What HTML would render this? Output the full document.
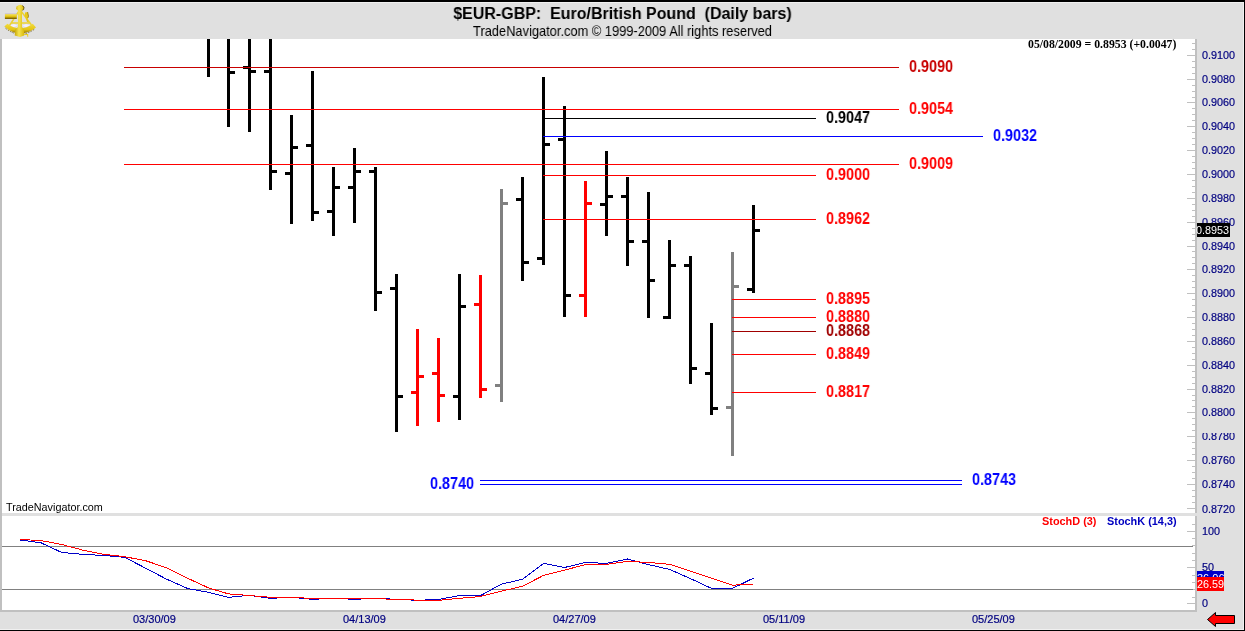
<!DOCTYPE html><html><head><meta charset="utf-8"><title>$EUR-GBP</title><style>
html,body{margin:0;padding:0}
body{width:1245px;height:631px;overflow:hidden;background:#e0e0e0;position:relative;font-family:"Liberation Sans",sans-serif}
.t{position:absolute;white-space:nowrap;line-height:1;will-change:transform}
.ax{font-size:10.8px;color:#000080;left:1202px;-webkit-text-stroke:0.2px #000080}
.lv{font-size:16px;font-weight:bold;transform:scaleX(0.9);transform-origin:0 0}
.dt{font-size:11px;color:#000080;top:614px;-webkit-text-stroke:0.2px #000080}
</style></head><body>
<svg width="1245" height="631" viewBox="0 0 1245 631" style="position:absolute;left:0;top:0" shape-rendering="crispEdges">
<rect x="2" y="39" width="1193" height="474" fill="#fff"/>
<rect x="2" y="516" width="1193" height="94" fill="#fff"/>
<rect x="0" y="39" width="2" height="573" fill="#c0c0c0"/>
<rect x="0" y="610" width="1197" height="2" fill="#c0c0c0"/>
<rect x="1195" y="39" width="2" height="474" fill="#c0c0c0"/>
<rect x="1195" y="516" width="2" height="96" fill="#c0c0c0"/>
<rect x="0" y="2" width="1244" height="1" fill="#f0f0f0"/>
<rect x="1243" y="2" width="1" height="628" fill="#f0f0f0"/>
<rect x="0" y="629" width="1244" height="1" fill="#f0f0f0"/>
<rect x="0" y="0" width="1245" height="2" fill="#000"/>
<rect x="1244" y="0" width="1" height="631" fill="#000"/>
<rect x="0" y="630" width="1245" height="1" fill="#000"/>
<rect x="1192" y="43" width="3" height="1" fill="#c0c0c0"/>
<rect x="1192" y="49" width="3" height="1" fill="#c0c0c0"/>
<rect x="1187" y="55" width="8" height="1" fill="#c0c0c0"/>
<rect x="1192" y="61" width="3" height="1" fill="#c0c0c0"/>
<rect x="1192" y="67" width="3" height="1" fill="#c0c0c0"/>
<rect x="1192" y="73" width="3" height="1" fill="#c0c0c0"/>
<rect x="1187" y="79" width="8" height="1" fill="#c0c0c0"/>
<rect x="1192" y="85" width="3" height="1" fill="#c0c0c0"/>
<rect x="1192" y="91" width="3" height="1" fill="#c0c0c0"/>
<rect x="1192" y="97" width="3" height="1" fill="#c0c0c0"/>
<rect x="1187" y="102" width="8" height="1" fill="#c0c0c0"/>
<rect x="1192" y="108" width="3" height="1" fill="#c0c0c0"/>
<rect x="1192" y="114" width="3" height="1" fill="#c0c0c0"/>
<rect x="1192" y="120" width="3" height="1" fill="#c0c0c0"/>
<rect x="1187" y="126" width="8" height="1" fill="#c0c0c0"/>
<rect x="1192" y="132" width="3" height="1" fill="#c0c0c0"/>
<rect x="1192" y="138" width="3" height="1" fill="#c0c0c0"/>
<rect x="1192" y="144" width="3" height="1" fill="#c0c0c0"/>
<rect x="1187" y="150" width="8" height="1" fill="#c0c0c0"/>
<rect x="1192" y="156" width="3" height="1" fill="#c0c0c0"/>
<rect x="1192" y="162" width="3" height="1" fill="#c0c0c0"/>
<rect x="1192" y="168" width="3" height="1" fill="#c0c0c0"/>
<rect x="1187" y="174" width="8" height="1" fill="#c0c0c0"/>
<rect x="1192" y="180" width="3" height="1" fill="#c0c0c0"/>
<rect x="1192" y="186" width="3" height="1" fill="#c0c0c0"/>
<rect x="1192" y="192" width="3" height="1" fill="#c0c0c0"/>
<rect x="1187" y="198" width="8" height="1" fill="#c0c0c0"/>
<rect x="1192" y="204" width="3" height="1" fill="#c0c0c0"/>
<rect x="1192" y="210" width="3" height="1" fill="#c0c0c0"/>
<rect x="1192" y="216" width="3" height="1" fill="#c0c0c0"/>
<rect x="1187" y="222" width="8" height="1" fill="#c0c0c0"/>
<rect x="1192" y="228" width="3" height="1" fill="#c0c0c0"/>
<rect x="1192" y="234" width="3" height="1" fill="#c0c0c0"/>
<rect x="1192" y="240" width="3" height="1" fill="#c0c0c0"/>
<rect x="1187" y="246" width="8" height="1" fill="#c0c0c0"/>
<rect x="1192" y="251" width="3" height="1" fill="#c0c0c0"/>
<rect x="1192" y="257" width="3" height="1" fill="#c0c0c0"/>
<rect x="1192" y="263" width="3" height="1" fill="#c0c0c0"/>
<rect x="1187" y="269" width="8" height="1" fill="#c0c0c0"/>
<rect x="1192" y="275" width="3" height="1" fill="#c0c0c0"/>
<rect x="1192" y="281" width="3" height="1" fill="#c0c0c0"/>
<rect x="1192" y="287" width="3" height="1" fill="#c0c0c0"/>
<rect x="1187" y="293" width="8" height="1" fill="#c0c0c0"/>
<rect x="1192" y="299" width="3" height="1" fill="#c0c0c0"/>
<rect x="1192" y="305" width="3" height="1" fill="#c0c0c0"/>
<rect x="1192" y="311" width="3" height="1" fill="#c0c0c0"/>
<rect x="1187" y="317" width="8" height="1" fill="#c0c0c0"/>
<rect x="1192" y="323" width="3" height="1" fill="#c0c0c0"/>
<rect x="1192" y="329" width="3" height="1" fill="#c0c0c0"/>
<rect x="1192" y="335" width="3" height="1" fill="#c0c0c0"/>
<rect x="1187" y="341" width="8" height="1" fill="#c0c0c0"/>
<rect x="1192" y="347" width="3" height="1" fill="#c0c0c0"/>
<rect x="1192" y="353" width="3" height="1" fill="#c0c0c0"/>
<rect x="1192" y="359" width="3" height="1" fill="#c0c0c0"/>
<rect x="1187" y="365" width="8" height="1" fill="#c0c0c0"/>
<rect x="1192" y="371" width="3" height="1" fill="#c0c0c0"/>
<rect x="1192" y="377" width="3" height="1" fill="#c0c0c0"/>
<rect x="1192" y="383" width="3" height="1" fill="#c0c0c0"/>
<rect x="1187" y="389" width="8" height="1" fill="#c0c0c0"/>
<rect x="1192" y="395" width="3" height="1" fill="#c0c0c0"/>
<rect x="1192" y="400" width="3" height="1" fill="#c0c0c0"/>
<rect x="1192" y="406" width="3" height="1" fill="#c0c0c0"/>
<rect x="1187" y="412" width="8" height="1" fill="#c0c0c0"/>
<rect x="1192" y="418" width="3" height="1" fill="#c0c0c0"/>
<rect x="1192" y="424" width="3" height="1" fill="#c0c0c0"/>
<rect x="1192" y="430" width="3" height="1" fill="#c0c0c0"/>
<rect x="1187" y="436" width="8" height="1" fill="#c0c0c0"/>
<rect x="1192" y="442" width="3" height="1" fill="#c0c0c0"/>
<rect x="1192" y="448" width="3" height="1" fill="#c0c0c0"/>
<rect x="1192" y="454" width="3" height="1" fill="#c0c0c0"/>
<rect x="1187" y="460" width="8" height="1" fill="#c0c0c0"/>
<rect x="1192" y="466" width="3" height="1" fill="#c0c0c0"/>
<rect x="1192" y="472" width="3" height="1" fill="#c0c0c0"/>
<rect x="1192" y="478" width="3" height="1" fill="#c0c0c0"/>
<rect x="1187" y="484" width="8" height="1" fill="#c0c0c0"/>
<rect x="1192" y="490" width="3" height="1" fill="#c0c0c0"/>
<rect x="1192" y="496" width="3" height="1" fill="#c0c0c0"/>
<rect x="1192" y="502" width="3" height="1" fill="#c0c0c0"/>
<rect x="1187" y="508" width="8" height="1" fill="#c0c0c0"/>
<rect x="1192" y="524" width="3" height="1" fill="#c0c0c0"/>
<rect x="1187" y="531" width="8" height="1" fill="#c0c0c0"/>
<rect x="1192" y="538" width="3" height="1" fill="#c0c0c0"/>
<rect x="1192" y="545" width="3" height="1" fill="#c0c0c0"/>
<rect x="1192" y="553" width="3" height="1" fill="#c0c0c0"/>
<rect x="1192" y="560" width="3" height="1" fill="#c0c0c0"/>
<rect x="1187" y="567" width="8" height="1" fill="#c0c0c0"/>
<rect x="1192" y="575" width="3" height="1" fill="#c0c0c0"/>
<rect x="1192" y="582" width="3" height="1" fill="#c0c0c0"/>
<rect x="1192" y="589" width="3" height="1" fill="#c0c0c0"/>
<rect x="1192" y="597" width="3" height="1" fill="#c0c0c0"/>
<rect x="1187" y="603" width="8" height="1" fill="#c0c0c0"/>
<rect x="2" y="546" width="1191" height="1" fill="#808080"/>
<rect x="2" y="589" width="1191" height="1" fill="#808080"/>
<rect x="207" y="39" width="3" height="38" fill="#000"/>
<rect x="227" y="39" width="3" height="88" fill="#000"/>
<rect x="230" y="71" width="5" height="3" fill="#000"/>
<rect x="248" y="39" width="3" height="93" fill="#000"/>
<rect x="243" y="66" width="5" height="3" fill="#000"/>
<rect x="251" y="70" width="5" height="3" fill="#000"/>
<rect x="269" y="39" width="3" height="151" fill="#000"/>
<rect x="264" y="70" width="5" height="3" fill="#000"/>
<rect x="272" y="170" width="5" height="3" fill="#000"/>
<rect x="290" y="115" width="3" height="109" fill="#000"/>
<rect x="285" y="172" width="5" height="3" fill="#000"/>
<rect x="293" y="146" width="5" height="3" fill="#000"/>
<rect x="311" y="71" width="3" height="150" fill="#000"/>
<rect x="306" y="144" width="5" height="3" fill="#000"/>
<rect x="314" y="211" width="5" height="3" fill="#000"/>
<rect x="332" y="167" width="3" height="69" fill="#000"/>
<rect x="327" y="210" width="5" height="3" fill="#000"/>
<rect x="335" y="186" width="5" height="3" fill="#000"/>
<rect x="353" y="148" width="3" height="75" fill="#000"/>
<rect x="348" y="186" width="5" height="3" fill="#000"/>
<rect x="356" y="170" width="5" height="3" fill="#000"/>
<rect x="374" y="167" width="3" height="144" fill="#000"/>
<rect x="369" y="170" width="5" height="3" fill="#000"/>
<rect x="377" y="291" width="5" height="3" fill="#000"/>
<rect x="395" y="274" width="3" height="158" fill="#000"/>
<rect x="390" y="287" width="5" height="3" fill="#000"/>
<rect x="398" y="395" width="5" height="3" fill="#000"/>
<rect x="416" y="329" width="3" height="97" fill="#f00"/>
<rect x="411" y="391" width="5" height="3" fill="#f00"/>
<rect x="419" y="375" width="5" height="3" fill="#f00"/>
<rect x="437" y="338" width="3" height="84" fill="#f00"/>
<rect x="432" y="372" width="5" height="3" fill="#f00"/>
<rect x="440" y="394" width="5" height="3" fill="#f00"/>
<rect x="458" y="274" width="3" height="146" fill="#000"/>
<rect x="453" y="395" width="5" height="3" fill="#000"/>
<rect x="461" y="305" width="5" height="3" fill="#000"/>
<rect x="479" y="275" width="3" height="123" fill="#f00"/>
<rect x="474" y="303" width="5" height="3" fill="#f00"/>
<rect x="482" y="388" width="5" height="3" fill="#f00"/>
<rect x="500" y="189" width="3" height="213" fill="#808080"/>
<rect x="495" y="384" width="5" height="3" fill="#808080"/>
<rect x="503" y="202" width="5" height="3" fill="#808080"/>
<rect x="521" y="177" width="3" height="104" fill="#000"/>
<rect x="516" y="198" width="5" height="3" fill="#000"/>
<rect x="524" y="261" width="5" height="3" fill="#000"/>
<rect x="542" y="77" width="3" height="188" fill="#000"/>
<rect x="537" y="257" width="5" height="3" fill="#000"/>
<rect x="545" y="143" width="5" height="3" fill="#000"/>
<rect x="563" y="106" width="3" height="211" fill="#000"/>
<rect x="558" y="138" width="5" height="3" fill="#000"/>
<rect x="566" y="294" width="5" height="3" fill="#000"/>
<rect x="584" y="181" width="3" height="136" fill="#f00"/>
<rect x="579" y="294" width="5" height="3" fill="#f00"/>
<rect x="587" y="202" width="5" height="3" fill="#f00"/>
<rect x="605" y="151" width="3" height="85" fill="#000"/>
<rect x="600" y="203" width="5" height="3" fill="#000"/>
<rect x="608" y="195" width="5" height="3" fill="#000"/>
<rect x="626" y="177" width="3" height="89" fill="#000"/>
<rect x="621" y="195" width="5" height="3" fill="#000"/>
<rect x="629" y="240" width="5" height="3" fill="#000"/>
<rect x="647" y="192" width="3" height="126" fill="#000"/>
<rect x="642" y="240" width="5" height="3" fill="#000"/>
<rect x="650" y="279" width="5" height="3" fill="#000"/>
<rect x="668" y="240" width="3" height="79" fill="#000"/>
<rect x="663" y="316" width="5" height="3" fill="#000"/>
<rect x="671" y="264" width="5" height="3" fill="#000"/>
<rect x="689" y="256" width="3" height="128" fill="#000"/>
<rect x="684" y="264" width="5" height="3" fill="#000"/>
<rect x="692" y="367" width="5" height="3" fill="#000"/>
<rect x="710" y="323" width="3" height="92" fill="#000"/>
<rect x="705" y="372" width="5" height="3" fill="#000"/>
<rect x="713" y="407" width="5" height="3" fill="#000"/>
<rect x="731" y="252" width="3" height="204" fill="#808080"/>
<rect x="726" y="406" width="5" height="3" fill="#808080"/>
<rect x="734" y="285" width="5" height="3" fill="#808080"/>
<rect x="752" y="205" width="3" height="88" fill="#000"/>
<rect x="747" y="288" width="5" height="3" fill="#000"/>
<rect x="755" y="229" width="5" height="3" fill="#000"/>
<rect x="124" y="67" width="775" height="1" fill="#c80000"/>
<rect x="124" y="109" width="775" height="1" fill="#f00"/>
<rect x="124" y="164" width="775" height="1" fill="#f00"/>
<rect x="544" y="118" width="272" height="1" fill="#000"/>
<rect x="543" y="136" width="440" height="1" fill="#00f"/>
<rect x="543" y="175" width="273" height="1" fill="#f00"/>
<rect x="543" y="219" width="273" height="1" fill="#f00"/>
<rect x="732" y="299" width="84" height="1" fill="#f00"/>
<rect x="732" y="317" width="84" height="1" fill="#f00"/>
<rect x="732" y="331" width="84" height="1" fill="#a00000"/>
<rect x="732" y="354" width="84" height="1" fill="#f00"/>
<rect x="732" y="392" width="84" height="1" fill="#f00"/>
<rect x="480" y="480" width="482" height="1" fill="#00f"/>
<rect x="480" y="484" width="482" height="1" fill="#00f"/>
<rect x="1197" y="223" width="33" height="14" fill="#000"/>
<rect x="1197" y="571" width="27" height="6" fill="#0000c8"/>
<rect x="1197" y="577" width="27" height="14" fill="#f00"/>
</svg>
<svg width="1245" height="631" viewBox="0 0 1245 631" style="position:absolute;left:0;top:0"><polyline fill="none" shape-rendering="crispEdges" stroke="#0000c8" stroke-width="1" points="19.9,540.0 40.8,542.7 61.8,552.5 82.7,554.3 103.7,555.5 124.7,557.3 145.6,568.2 166.6,579.2 187.5,588.5 208.5,592.3 228.5,597.3 249.5,595.3 270.5,598.3 291.5,597.3 312.5,599.3 333.5,598.3 354.5,599.3 375.5,598.3 396.5,599.3 417.5,600.3 438.5,599.5 459.5,595.5 480.5,595.6 501.5,584.1 522.5,579.3 543.5,563.4 564.5,567.5 585.5,562.4 606.5,563.4 627.5,559.0 648.5,564.6 669.5,569.4 690.5,578.6 711.5,588.4 732.5,588.4 753.5,578.1"/><polyline fill="none" shape-rendering="crispEdges" stroke="#f00" stroke-width="1" points="19.9,539.5 40.8,540.5 61.8,544.5 82.7,550.1 103.7,554.3 124.7,556.7 145.6,560.7 166.6,567.8 187.5,578.2 208.5,587.9 228.5,593.9 249.5,595.5 270.5,597.3 291.5,597.3 312.5,598.5 333.5,598.5 354.5,598.5 375.5,598.5 396.5,599.5 417.5,600.1 438.5,600.3 459.5,598.3 480.5,596.5 501.5,591.1 522.5,586.3 543.5,575.4 564.5,570.1 585.5,564.6 606.5,564.3 627.5,561.4 648.5,562.4 669.5,564.3 690.5,571.3 711.5,578.1 732.5,585.1 753.5,584.6"/><polygon points="1207.5,619.5 1215.5,612.5 1215.5,615.5 1234.5,615.5 1234.5,623.5 1215.5,623.5 1215.5,626.5" fill="#f00" stroke="#000" stroke-width="1"/><g id="icon">
<defs>
<linearGradient id="gt" x1="0" y1="0" x2="0" y2="1"><stop offset="0" stop-color="#b8a8c8"/><stop offset="0.2" stop-color="#f4e04a"/><stop offset="0.55" stop-color="#e0c010"/><stop offset="1" stop-color="#6a5200"/></linearGradient>
<linearGradient id="ga" x1="0" y1="0" x2="1" y2="0"><stop offset="0" stop-color="#c8a808"/><stop offset="0.45" stop-color="#f6e450"/><stop offset="1" stop-color="#d8b80c"/></linearGradient>
<linearGradient id="gc" x1="0" y1="0" x2="0" y2="1"><stop offset="0" stop-color="#f2dc3c"/><stop offset="0.6" stop-color="#e4c414"/><stop offset="1" stop-color="#907000"/></linearGradient>
</defs>
<path d="M9,25.5 L14,24 L17.5,25.5 L13,27.5 Z M22.5,25.5 L26,24 L30,25.5 L26,27.5 Z" fill="#f4f0ff" opacity="0.85"/>
<path d="M19,11 L9.5,25.5 M21,11 L31.5,25 M11,23 L30,23" stroke="#ecd232" stroke-width="1.4" fill="none"/>
<path d="M4.3,26.4 L7.4,23.8 Q20,33 32.8,23.8 L36,27.5 Q20,40 4.3,26.4 Z" fill="url(#gc)"/>
<path d="M5.5,28.2 Q20,40 35,28.8" stroke="#5a4600" stroke-width="1" stroke-dasharray="1.5 1.2" fill="none" opacity="0.7"/>
<path d="M25,12.4 L27.6,12 L28.5,16 L27.6,19 L28.6,22 L27,22 L26,19 L24.8,16 Z" fill="#e6c81c"/>
<path d="M27.6,12 L28.5,16 L27.9,18" stroke="#8a6c00" stroke-width="0.7" fill="none"/>
<rect x="4.9" y="13.6" width="11.9" height="5.4" fill="url(#gt)"/>
<path d="M18,10.4 L16,9 L16.4,6.6 L19,4.9 L21,4.7 L24,7 L23.6,9.6 L22,10.4 L22,27 L24,29.5 L24.2,35.6 L20,36.9 L14.7,35.6 L15.2,29.5 L18,27 Z" fill="url(#ga)"/>
<path d="M22.2,5.6 L24,7 L23.6,9.6 L22.4,10.2" stroke="#5a4600" stroke-width="0.9" fill="none"/>
<path d="M24.2,33.9 L28.2,33.9 L28.2,36.8 L27.2,36.8 L27.2,35.1 L24.2,35.1 Z" fill="#e8cc20"/>
</g></svg>
<div class="t " style="left:0;width:1245px;text-align:center;top:5px;font-size:17.4px;font-weight:bold;color:#000;transform:scaleX(0.9195);transform-origin:50% 0">$EUR-GBP:&nbsp; Euro/British Pound&nbsp; (Daily bars)</div>
<div class="t " style="left:0;width:1245px;text-align:center;top:24px;font-size:14.5px;color:#000;transform:scaleX(0.886);transform-origin:50% 0">TradeNavigator.com &copy; 1999-2009 All rights reserved</div>
<div class="t " style="left:1028px;top:39px;font-family:'Liberation Serif',serif;font-weight:bold;font-size:11.77px;color:#000">05/08/2009 = 0.8953 (+0.0047)</div>
<div class="t ax" style="top:50px">0.9100</div>
<div class="t ax" style="top:74px">0.9080</div>
<div class="t ax" style="top:97px">0.9060</div>
<div class="t ax" style="top:121px">0.9040</div>
<div class="t ax" style="top:145px">0.9020</div>
<div class="t ax" style="top:169px">0.9000</div>
<div class="t ax" style="top:193px">0.8980</div>
<div class="t ax" style="top:217px">0.8960</div>
<div class="t ax" style="top:241px">0.8940</div>
<div class="t ax" style="top:264px">0.8920</div>
<div class="t ax" style="top:288px">0.8900</div>
<div class="t ax" style="top:312px">0.8880</div>
<div class="t ax" style="top:336px">0.8860</div>
<div class="t ax" style="top:360px">0.8840</div>
<div class="t ax" style="top:384px">0.8820</div>
<div class="t ax" style="top:407px">0.8800</div>
<div class="t ax" style="top:431px">0.8780</div>
<div class="t ax" style="top:455px">0.8760</div>
<div class="t ax" style="top:479px">0.8740</div>
<div class="t ax" style="top:504px">0.8720</div>
<div style="position:absolute;left:1198px;top:427px;width:44px;height:6px;background:#e0e0e0"></div>
<div style="position:absolute;left:1197px;top:223px;width:33px;height:14px;background:#000"></div>
<div class="t " style="left:1196px;top:225px;font-size:10.8px;color:#fff">0.8953</div>
<div class="t ax" style="top:526px">100</div>
<div class="t ax" style="top:562px">50</div>
<div class="t ax" style="top:598px">0</div>
<div style="position:absolute;left:1197px;top:571px;width:27px;height:6px;background:#0000c8;overflow:hidden"><div class="t" style="left:0;top:2px;font-size:11px;color:#fff">36.06</div></div>
<div style="position:absolute;left:1197px;top:577px;width:27px;height:14px;background:#f00"></div>
<div class="t " style="left:1196.5px;top:579px;font-size:10.8px;color:#fff">26.59</div>
<div class="t lv" style="left:909px;top:59px;color:#c80000">0.9090</div>
<div class="t lv" style="left:909px;top:101px;color:#f00">0.9054</div>
<div class="t lv" style="left:826px;top:110px;color:#000">0.9047</div>
<div class="t lv" style="left:993px;top:128px;color:#00f">0.9032</div>
<div class="t lv" style="left:909px;top:156px;color:#f00">0.9009</div>
<div class="t lv" style="left:826px;top:167px;color:#f00">0.9000</div>
<div class="t lv" style="left:826px;top:211px;color:#f00">0.8962</div>
<div class="t lv" style="left:826px;top:291px;color:#f00">0.8895</div>
<div class="t lv" style="left:826px;top:309px;color:#f00">0.8880</div>
<div class="t lv" style="left:826px;top:323px;color:#a00000">0.8868</div>
<div class="t lv" style="left:826px;top:346px;color:#f00">0.8849</div>
<div class="t lv" style="left:826px;top:384px;color:#f00">0.8817</div>
<div class="t lv" style="left:430px;top:476px;color:#00f">0.8740</div>
<div class="t lv" style="left:972px;top:472px;color:#00f">0.8743</div>
<div class="t " style="left:6px;top:501.5px;font-size:10.8px;color:#000">TradeNavigator.com</div>
<div class="t " style="left:1042px;top:516px;font-size:10.9px;font-weight:bold;color:#f00">StochD (3)</div>
<div class="t " style="left:1107px;top:516px;font-size:10.9px;font-weight:bold;color:#0000c0">StochK (14,3)</div>
<div class="t dt" style="left:133px">03/30/09</div>
<div class="t dt" style="left:343px">04/13/09</div>
<div class="t dt" style="left:553px">04/27/09</div>
<div class="t dt" style="left:763px">05/11/09</div>
<div class="t dt" style="left:972px">05/25/09</div>
</body></html>
